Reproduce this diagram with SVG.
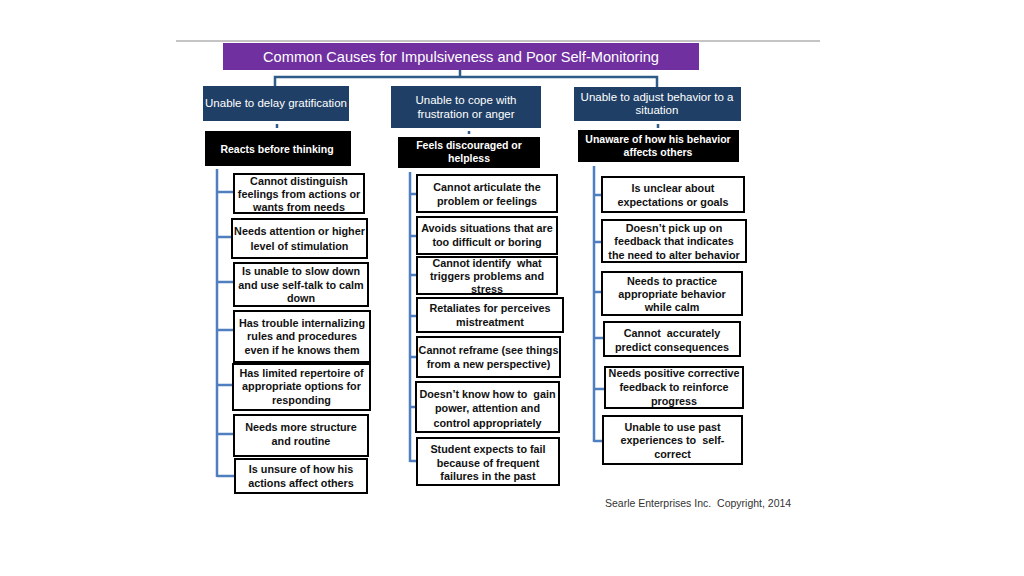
<svg xmlns="http://www.w3.org/2000/svg" width="1024" height="576" viewBox="0 0 1024 576">
<style>
.hdr{fill:#203f66}
.blk{fill:#000}
.box{fill:#fff;stroke:#000;stroke-width:2}
.ht{font-family:"Liberation Sans",Arial,sans-serif;font-size:11.5px;fill:#fff;text-anchor:middle}
.bt{font-family:"Liberation Sans",Arial,sans-serif;font-size:10.5px;font-weight:bold;fill:#fff;text-anchor:middle}
.t{font-family:"Liberation Sans",Arial,sans-serif;font-size:10.8px;font-weight:bold;fill:#111;text-anchor:middle}
.top{fill:none;stroke:#2e5b87;stroke-width:2.5}
.col{fill:none;stroke:#4f7fbf;stroke-width:2.5}
</style>
<rect width="1024" height="576" fill="#fff"/>
<line x1="176" y1="41" x2="820" y2="41" stroke="#8a8a8a" stroke-width="1"/>
<g id="title">
<rect x="223" y="43" width="476" height="27" fill="#7030a0"/>
<text x="461" y="61.5" font-family="Liberation Sans,Arial,sans-serif" font-size="14.6px" fill="#fff" text-anchor="middle">Common Causes for Impulsiveness and Poor Self-Monitoring</text>
</g>
<g id="connectors">
<path class="top" d="M460 70V77M275 86V77H657V87"/>
<path class="top" d="M277 124V128M469 131V134M658 124V128" stroke-width="2"/>
<path class="col" d="M217 169V477M217 192H234M217 237H232M217 282H234M217 330H234M217 385H233M217 434H234M217 476H235"/>
<path class="col" d="M410 172V462M410 194H417M410 236H417M410 275H417M410 316H417M410 357H417M410 407H416M410 461H417"/>
<path class="col" d="M594 166V442M594 195H602M594 242H602M594 292H602M594 338H604M594 389H605M594 441H603"/>
</g>
<g id="h1"><rect class="hdr" x="203" y="86" width="146" height="35"/><text class="ht" x="276" y="107">Unable to delay gratification</text></g>
<g id="h2"><rect class="hdr" x="391" y="86" width="150" height="42"/><text class="ht" x="466" y="104">Unable to cope with</text><text class="ht" x="466" y="118">frustration or anger</text></g>
<g id="h3"><rect class="hdr" x="574" y="87" width="167" height="34"/><text class="ht" x="657" y="101">Unable to adjust behavior to a</text><text class="ht" x="657" y="114">situation</text></g>
<g id="b1"><rect class="blk" x="205" y="131" width="146" height="35"/><text class="bt" x="277" y="153">Reacts before thinking</text></g>
<g id="b2"><rect class="blk" x="398" y="137" width="142" height="31"/><text class="bt" x="469" y="149">Feels discouraged or</text><text class="bt" x="469" y="162">helpless</text></g>
<g id="b3"><rect class="blk" x="578" y="130" width="161" height="32"/><text class="bt" x="658" y="143">Unaware of how his behavior</text><text class="bt" x="658" y="156">affects others</text></g>
<g id="c1n1"><rect class="box" x="234" y="174" width="130" height="39"/><text class="t" x="299" y="184.5">Cannot distinguish</text><text class="t" x="299" y="197.5">feelings from actions or</text><text class="t" x="299" y="210.5">wants from needs</text></g>
<g id="c1n2"><rect class="box" x="232" y="219" width="135" height="39"/><text class="t" x="299.5" y="235">Needs attention or higher</text><text class="t" x="299.5" y="250">level of stimulation</text></g>
<g id="c1n3"><rect class="box" x="234" y="263" width="134" height="43"/><text class="t" x="301" y="275">Is unable to slow down</text><text class="t" x="301" y="289">and use self-talk to calm</text><text class="t" x="301" y="302">down</text></g>
<g id="c1n4"><rect class="box" x="234" y="311" width="136" height="51"/><text class="t" x="302" y="327">Has trouble internalizing</text><text class="t" x="302" y="340">rules and procedures</text><text class="t" x="302" y="354">even if he knows them</text></g>
<g id="c1n5"><rect class="box" x="233" y="364" width="137" height="46"/><text class="t" x="301.5" y="377">Has limited repertoire of</text><text class="t" x="301.5" y="390">appropriate options for</text><text class="t" x="301.5" y="404">responding</text></g>
<g id="c1n6"><rect class="box" x="234" y="415" width="134" height="41"/><text class="t" x="301" y="431">Needs more structure</text><text class="t" x="301" y="445">and routine</text></g>
<g id="c1n7"><rect class="box" x="235" y="459" width="132" height="34"/><text class="t" x="301" y="473">Is unsure of how his</text><text class="t" x="301" y="487">actions affect others</text></g>
<g id="c2n1"><rect class="box" x="417" y="175" width="140" height="37"/><text class="t" x="487" y="191">Cannot articulate the</text><text class="t" x="487" y="205">problem or feelings</text></g>
<g id="c2n2"><rect class="box" x="417" y="217" width="140" height="37"/><text class="t" x="487" y="232">Avoids situations that are</text><text class="t" x="487" y="246">too difficult or boring</text></g>
<g id="c2n3"><rect class="box" x="417" y="257" width="140" height="37"/><text class="t" x="487" y="267" xml:space="preserve">Cannot identify  what</text><text class="t" x="487" y="280">triggers problems and</text><text class="t" x="487" y="293">stress</text></g>
<g id="c2n4"><rect class="box" x="417" y="298" width="146" height="34"/><text class="t" x="490" y="312">Retaliates for perceives</text><text class="t" x="490" y="326">mistreatment</text></g>
<g id="c2n5"><rect class="box" x="417" y="337" width="143" height="40"/><text class="t" x="488.5" y="354">Cannot reframe (see things</text><text class="t" x="488.5" y="368">from a new perspective)</text></g>
<g id="c2n6"><rect class="box" x="416" y="382" width="143" height="50"/><text class="t" x="487.5" y="398" xml:space="preserve">Doesn’t know how to  gain</text><text class="t" x="487.5" y="412">power, attention and</text><text class="t" x="487.5" y="427">control appropriately</text></g>
<g id="c2n7"><rect class="box" x="417" y="438" width="142" height="47"/><text class="t" x="488" y="453">Student expects to fail</text><text class="t" x="488" y="467">because of frequent</text><text class="t" x="488" y="480">failures in the past</text></g>
<g id="c3n1"><rect class="box" x="602" y="177" width="142" height="35"/><text class="t" x="673" y="192">Is unclear about</text><text class="t" x="673" y="206">expectations or goals</text></g>
<g id="c3n2"><rect class="box" x="602" y="220" width="144" height="42"/><text class="t" x="674" y="232">Doesn’t pick up on</text><text class="t" x="674" y="245">feedback that indicates</text><text class="t" x="674" y="259">the need to alter behavior</text></g>
<g id="c3n3"><rect class="box" x="602" y="272" width="140" height="43"/><text class="t" x="672" y="285">Needs to practice</text><text class="t" x="672" y="298">appropriate behavior</text><text class="t" x="672" y="311">while calm</text></g>
<g id="c3n4"><rect class="box" x="604" y="322" width="136" height="34"/><text class="t" x="672" y="337" xml:space="preserve">Cannot  accurately</text><text class="t" x="672" y="351">predict consequences</text></g>
<g id="c3n5"><rect class="box" x="605" y="367" width="138" height="41"/><text class="t" x="674" y="377">Needs positive corrective</text><text class="t" x="674" y="391">feedback to reinforce</text><text class="t" x="674" y="405">progress</text></g>
<g id="c3n6"><rect class="box" x="603" y="416" width="139" height="48"/><text class="t" x="672.5" y="431">Unable to use past</text><text class="t" x="672.5" y="444" xml:space="preserve">experiences to  self-</text><text class="t" x="672.5" y="458">correct</text></g>
<text x="605" y="507" font-family="Liberation Sans,Arial,sans-serif" font-size="10.5px" fill="#333" xml:space="preserve">Searle Enterprises Inc.  Copyright, 2014</text>
</svg>
